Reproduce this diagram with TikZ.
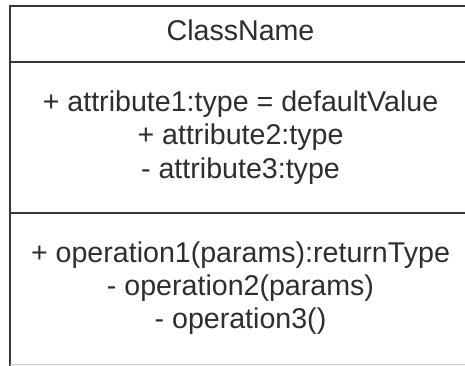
\documentclass[tikz,border=0pt]{standalone}
\usepackage{fontspec}
\setmainfont{Liberation Sans}
\definecolor{txt}{HTML}{2E2E2E}
\definecolor{ln}{HTML}{383838}
\definecolor{edge}{HTML}{C8C8C8}
\tikzset{
  umltext/.style={text=txt, inner sep=0pt, anchor=base, font=\fontsize{28.6}{32}\selectfont},
  umlline/.style={draw=ln, line width=2.6pt},
}
\begin{document}
\begin{tikzpicture}[x=1pt,y=-1pt]
\useasboundingbox (0,0) rectangle (465,366);
\clip (0,0) rectangle (465,366);
\fill[white] (0,0) rectangle (465,366);
% box (right side runs past the picture edge)
\draw[umlline] (475,6) -- (10,6) -- (10,370);
\draw[umlline] (10,62) -- (475,62);
\draw[umlline] (10,213) -- (475,213);
\draw[draw=edge, line width=1pt] (10,364.5) -- (475,364.5);
% texts
\node[umltext] (cn) at (240.5,41) {ClassName};
\node[umltext] (a1) at (240.5,112) {+ attribute1:type = defaultValue};
\node[umltext] (a2) at (240.5,145) {+ attribute2:type};
\node[umltext] (a3) at (240.5,178) {- attribute3:type};
\node[umltext] (o1) at (240.5,262) {+ operation1(params):returnType};
\node[umltext] (o2) at (240.5,295) {- operation2(params)};
\node[umltext] (o3) at (240.5,328) {- operation3()};
\end{tikzpicture}
\end{document}
